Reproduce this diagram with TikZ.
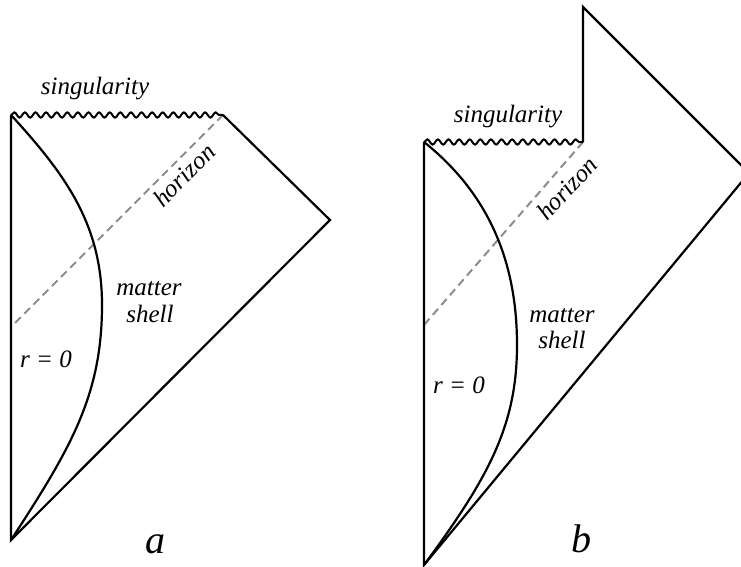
\documentclass[tikz,border=0pt]{standalone}
\usepackage{fontspec}
\setmainfont{Liberation Serif}
\usetikzlibrary{decorations.pathmorphing}
\tikzset{
  edge/.style={line width=2.2pt, black, line join=miter},
  sing/.style={line width=2pt, black, decorate, decoration={snake, segment length=10.6pt, amplitude=2.6pt, pre length=0pt, post length=0pt}},
  horiz/.style={line width=2pt, gray!90!white, dash pattern=on 8pt off 5pt},
  shell/.style={line width=2.2pt, black},
  lbl/.style={font=\fontsize{25}{27}\selectfont\itshape, inner sep=0pt, anchor=base},
  big/.style={font=\fontsize{40}{42}\selectfont\itshape, inner sep=0pt, anchor=base}
}
\begin{document}
\begin{tikzpicture}[x=1pt,y=-1pt]
\useasboundingbox (0,0) rectangle (741,567);
\clip (0,0) rectangle (741,567);
% ---------- diagram a ----------
\coordinate (aT) at (11,115);
\coordinate (aS) at (223,115);
\coordinate (aR) at (330,220);
\coordinate (aB) at (11,540);
\coordinate (aH) at (11,327);
\coordinate (aM) at (102,305);
\draw[horiz] (aS) -- (aH);
\draw[edge] (aT) -- (aB) -- (aR) -- (aS);
\draw[sing] (aT) -- (aS);
\draw[shell] (aT) .. controls (66,175) and (102,225) .. (aM)
                  .. controls (102,395) and (71,448) .. (aB);
\node[lbl] (asing) at (95,95) {singularity};
\node[lbl, rotate=45, anchor=center] (ahor) at (184,175) {horizon};
\node[lbl] (amat) at (149,295) {matter};
\node[lbl] (ashe) at (150,322) {shell};
\node[lbl] (ar) at (46,367) {r = 0};
\node[big] (alab) at (155,553) {a};
% ---------- diagram b ----------
\coordinate (bT) at (424,142);
\coordinate (bS) at (583,142);
\coordinate (bU) at (583,7);
\coordinate (bR) at (749,173);
\coordinate (bB) at (424,565);
\coordinate (bH) at (424,325);
\coordinate (bM) at (517,345);
\draw[horiz] (bS) -- (bH);
\draw[edge] (bT) -- (bB) -- (bR) -- (bU) -- (bS);
\draw[sing] (bT) -- (bS);
\draw[shell] (bT) .. controls (484,190) and (517,255) .. (bM)
                  .. controls (517,425) and (489,477) .. (bB);
\node[lbl] (bsing) at (508,122) {singularity};
\node[lbl, rotate=47, anchor=center] (bhor) at (567,188) {horizon};
\node[lbl] (bmat) at (562,322) {matter};
\node[lbl] (bshe) at (562,348) {shell};
\node[lbl] (br) at (459,393) {r = 0};
\node[big] (blab) at (581,552) {b};
\end{tikzpicture}
\end{document}
